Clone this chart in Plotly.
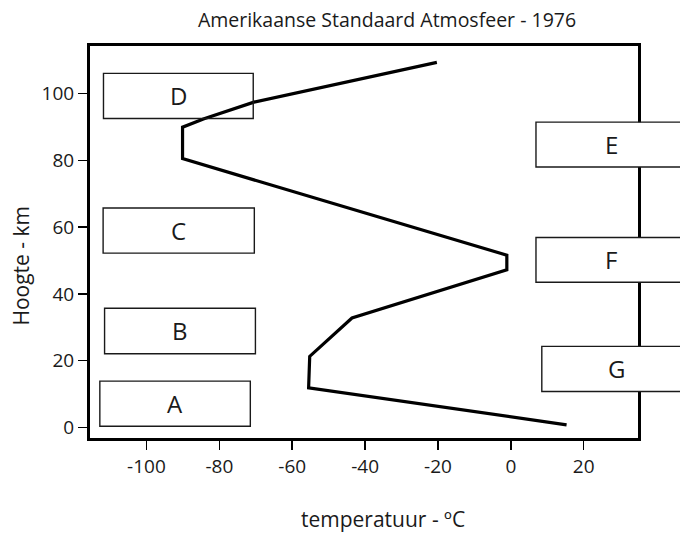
import plotly.graph_objects as go

# Temperature profile (°C) vs altitude (km)
temperature = [15.3, -55.5, -55.2, -43.6, -1.1, -1.1, -90.1, -90.1, -84.2, -70.5, -20.3]
altitude = [0.8, 11.9, 21.3, 32.8, 47.2, 51.6, 80.5, 89.9, 92.4, 97.4, 109.3]

x_ticks = [-100, -80, -60, -40, -20, 0, 20]
y_ticks = [0, 20, 40, 60, 80, 100]

box_labels = ["A", "B", "C", "D", "E", "F", "G"]

X_RANGE = [-115.5, 34.9]
Y_RANGE = [-3.13, 114.2]

# box extents in data units (x0, x1, y0, y1) and label x position
boxes = {
    "A": (-112.8, -71.5, 0.4, 13.9, None),
    "B": (-111.5, -70.1, 22.1, 35.7, None),
    "C": (-111.9, -70.4, 52.2, 65.7, None),
    "D": (-111.8, -70.7, 92.5, 106.0, None),
    "E": (6.9, 52.0, 78.0, 91.4, 27.6),
    "F": (6.9, 52.0, 43.5, 56.9, 27.6),
    "G": (8.5, 52.0, 10.8, 24.3, 29.0),
}

def xp(v):
    return (v - X_RANGE[0]) / (X_RANGE[1] - X_RANGE[0])

def yp(v):
    return (v - Y_RANGE[0]) / (Y_RANGE[1] - Y_RANGE[0])

FONT = "Open Sans"
INK = "#1a1a1a"
FS = 19
FS_AX = 21

fig = go.Figure()
fig.add_trace(go.Scatter(
    x=temperature, y=altitude, mode="lines",
    line=dict(color="black", width=3.2),
    showlegend=False, hoverinfo="skip",
))

shapes = []
annotations = []
for lab in box_labels:
    x0, x1, y0, y1, lx = boxes[lab]
    right = lab in ("E", "F", "G")
    shapes.append(dict(
        type="rect", xref="paper", yref="paper",
        x0=xp(x0), x1=xp(x1), y0=yp(y0), y1=yp(y1),
        line=dict(color=INK, width=1.4),
        fillcolor="white" if right else "rgba(0,0,0,0)",
        layer="above",
    ))
    cx = lx if lx is not None else (x0 + x1) / 2
    annotations.append(dict(
        x=cx, y=(y0 + y1) / 2, xref="x", yref="y", text=lab,
        showarrow=False, font=dict(family=FONT, size=24, color=INK),
        xanchor="center", yanchor="middle",
    ))

# axis titles (offset like in the original figure)
annotations.append(dict(
    x=(383 - 89.5) / 549, y=(438.5 - 520) / 393, xref="paper", yref="paper",
    text="temperatuur - ºC", showarrow=False,
    font=dict(family=FONT, size=FS_AX, color=INK),
    xanchor="center", yanchor="middle",
))
annotations.append(dict(
    x=(20 - 89.5) / 549, y=(438.5 - 266) / 393, xref="paper", yref="paper",
    text="Hoogte - km", showarrow=False, textangle=-90,
    font=dict(family=FONT, size=FS_AX, color=INK),
    xanchor="center", yanchor="middle",
))

fig.update_layout(
    width=680, height=534,
    margin=dict(l=89.5, r=41.5, t=45.5, b=95.5),
    paper_bgcolor="white", plot_bgcolor="white",
    title=dict(
        text="Amerikaanse Standaard Atmosfeer - 1976",
        x=387 / 680, xanchor="center", y=1 - 20 / 534, yanchor="middle",
        font=dict(family=FONT, size=19.5, color=INK),
    ),
    font=dict(family=FONT, color=INK),
    shapes=shapes,
    annotations=annotations,
    xaxis=dict(
        range=X_RANGE, tickmode="array", tickvals=x_ticks,
        ticktext=[str(v) for v in x_ticks],
        showgrid=False, zeroline=False,
        showline=True, linecolor="black", linewidth=3, mirror=True,
        ticks="outside", ticklen=9, tickwidth=1.5, tickcolor="black",
        tickfont=dict(family=FONT, size=FS, color=INK),
    ),
    yaxis=dict(
        range=Y_RANGE, tickmode="array", tickvals=y_ticks,
        ticktext=[str(v) for v in y_ticks],
        showgrid=False, zeroline=False,
        showline=True, linecolor="black", linewidth=3, mirror=True,
        ticks="outside", ticklen=9, tickwidth=1.5, tickcolor="black",
        tickfont=dict(family=FONT, size=FS, color=INK),
    ),
)

fig.write_html(
    "out.html",
    config={"displayModeBar": False, "staticPlot": True},
    post_script="document.body.style.margin='0px';document.body.style.overflow='hidden';",
)
